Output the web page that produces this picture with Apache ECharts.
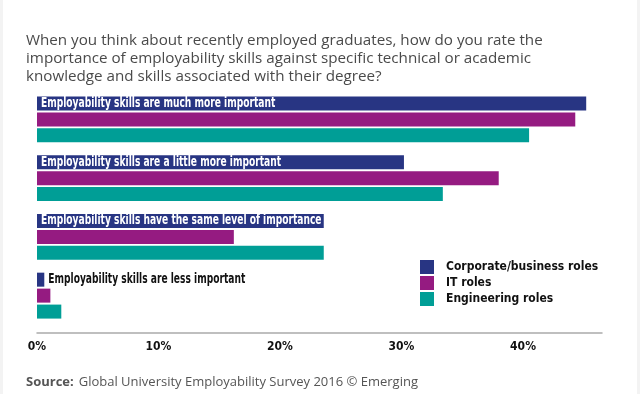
<!DOCTYPE html>
<html>
<head>
<meta charset="utf-8">
<script src="https://cdn.jsdelivr.net/npm/echarts@6/dist/echarts.min.js"></script>
<style>
  html, body { margin: 0; padding: 0; background: #ffffff; }
  #chart { width: 640px; height: 394px; }
</style>
</head>
<body>
<div id="chart"></div>
<script>
var categories = [
  'Employability skills are much more important',
  'Employability skills are a little more important',
  'Employability skills have the same level of importance',
  'Employability skills are less important'
];
var seriesNames = ['Corporate/business roles', 'IT roles', 'Engineering roles'];
var corporate = [45.2, 30.2, 23.6, 0.6];
var itRoles = [44.3, 38.0, 16.2, 1.1];
var engineering = [40.5, 33.4, 23.6, 2.0];
var tickValues = [0, 10, 20, 30, 40];

var narrow = "'Liberation Sans Narrow', 'DejaVu Sans Condensed', 'Arial Narrow', sans-serif";
var colors = ['#283583', '#951b81', '#009e96'];
var BAR_W = 14;

var chart = echarts.init(document.getElementById('chart'), null, { renderer: 'canvas' });

// label anchor: inside the bar for the first three groups, after the bar for the last
var labelData = categories.map(function (c, i) {
  var outside = i === categories.length - 1;
  return [outside ? corporate[i] : 0, i, outside ? 1 : 0];
});

function renderLabel(params, api) {
  var idx = api.value(1);
  var outside = api.value(2) === 1;
  var pt = api.coord([api.value(0), idx]);
  var groupW = BAR_W * 3 + 2 * 2;
  var yOff = -groupW / 2 + BAR_W / 2;
  return {
    type: 'text',
    x: pt[0] + 4,
    y: pt[1] + yOff,
    scaleX: 0.75,
    style: {
      text: categories[params.dataIndex],
      fill: outside ? '#111111' : '#ffffff',
      font: 'bold 13.5px ' + narrow,
      verticalAlign: 'middle',
      align: 'left'
    }
  };
}

var option = {
  backgroundColor: '#ffffff',
  animation: false,
  color: colors,
  title: [
    {
      text: 'When you think about recently employed graduates, how do you rate the\nimportance of employability skills against specific technical or academic\nknowledge and skills associated with their degree?',
      left: 26,
      top: 32,
      padding: 0,
      textStyle: {
        fontFamily: "'Open Sans', sans-serif",
        fontSize: 15.2,
        fontWeight: 'normal',
        color: '#4a4a4a',
        lineHeight: 18
      }
    },
    {
      text: '{b|Source:} {r|Global University Employability Survey 2016 \u00a9 Emerging}',
      left: 26,
      top: 373,
      padding: 0,
      textStyle: {
        rich: {
          b: { fontFamily: "'Open Sans', sans-serif", fontSize: 13, fontWeight: 'bold', color: '#555555' },
          r: { fontFamily: "'Open Sans', sans-serif", fontSize: 13, fontWeight: 'normal', color: '#555555' }
        }
      }
    }
  ],
  legend: {
    orient: 'vertical',
    left: 420,
    top: 260,
    itemWidth: 14,
    itemHeight: 14,
    itemGap: 2,
    icon: 'rect',
    padding: 0,
    data: seriesNames,
    textStyle: {
      fontFamily: narrow,
      fontSize: 12,
      fontWeight: 'bold',
      color: '#111111',
      padding: [0, 0, 0, 7]
    }
  },
  grid: {
    left: 37,
    right: 38,
    top: 90,
    height: 235
  },
  xAxis: {
    type: 'value',
    min: 0,
    max: 46.5,
    interval: 10,
    offset: 8,
    axisLine: { show: true, lineStyle: { color: '#aaaaaa', width: 1.5 } },
    axisTick: { show: false },
    splitLine: { show: false },
    axisLabel: {
      showMaxLabel: false,
      margin: 8,
      fontFamily: narrow,
      fontSize: 12,
      fontWeight: 'bold',
      color: '#111111',
      formatter: function (v) { return tickValues.indexOf(v) >= 0 ? v + '%' : ''; }
    }
  },
  yAxis: {
    type: 'category',
    inverse: true,
    data: categories,
    axisLine: { show: false },
    axisTick: { show: false },
    axisLabel: { show: false }
  },
  graphic: [
    { type: 'rect', left: 0, top: 0, shape: { width: 3, height: 394 }, style: { fill: '#f3f3f3' }, silent: true },
    { type: 'rect', left: 637, top: 0, shape: { width: 3, height: 394 }, style: { fill: '#f3f3f3' }, silent: true }
  ],
  series: [
    {
      name: seriesNames[0],
      type: 'bar',
      data: corporate,
      barWidth: BAR_W,
      barGap: '14%'
    },
    {
      name: seriesNames[1],
      type: 'bar',
      data: itRoles,
      barWidth: BAR_W,
      barGap: '14%'
    },
    {
      name: seriesNames[2],
      type: 'bar',
      data: engineering,
      barWidth: BAR_W,
      barGap: '14%'
    },
    {
      name: 'labels',
      type: 'custom',
      data: labelData,
      encode: { x: 0, y: 1 },
      renderItem: renderLabel,
      silent: true,
      z: 5
    }
  ]
};

chart.setOption(option);
</script>
</body>
</html>
